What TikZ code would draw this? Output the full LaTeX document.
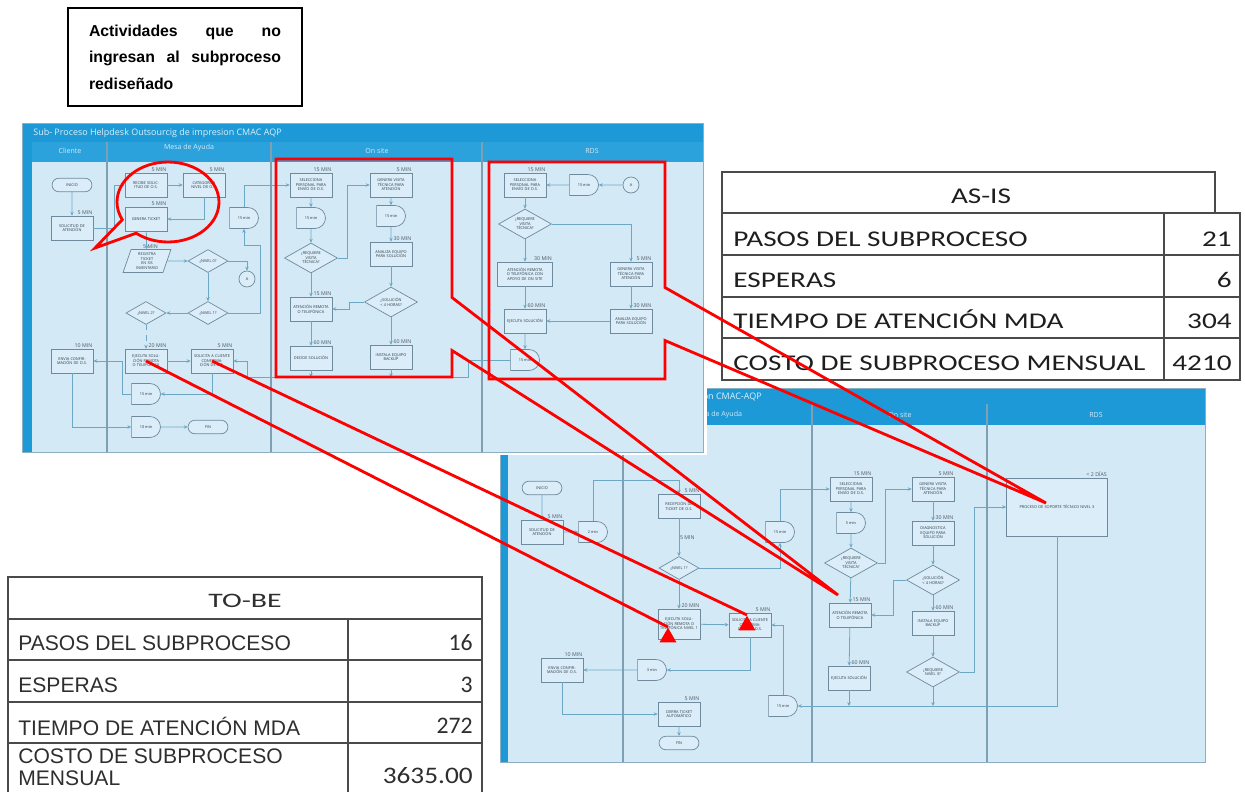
\documentclass[tikz,border=0pt]{standalone}
\usepackage{fontspec}
\usetikzlibrary{arrows.meta,shapes.geometric,shapes.misc,shapes.callouts}

\newfontfamily\arialf{Liberation Sans}
\newfontfamily\calif{Carlito}
\newfontfamily\flowf{Open Sans}

\definecolor{scrbg}{HTML}{D4E9F6}
\definecolor{scrframe}{HTML}{8DAFC4}
\definecolor{hdrblue}{HTML}{1C99D6}
\definecolor{lanehdr}{HTML}{2BA2DC}
\definecolor{lanecol}{HTML}{7F9FB2}
\definecolor{boxline}{HTML}{6F8A9C}
\definecolor{boxfill}{HTML}{DAEDF8}
\definecolor{flowline}{HTML}{6CA8C6}
\definecolor{boxtext}{HTML}{2C3945}
\definecolor{tabgray}{HTML}{4A4A4A}
\definecolor{tabtext}{HTML}{1E1E1E}
\definecolor{tobetext}{HTML}{2E2E2E}

% stretched table text
\newcommand\wide[2][1.3]{\scalebox{#1}[1]{#2}}
% justified block, never hyphenated
\newcommand\notepar[1]{\parbox{3.84cm}{\hyphenpenalty=10000 \exhyphenpenalty=10000 \tolerance=10000 #1}}

\tikzset{
  scredge/.style={draw=scrframe, line width=0.5pt},
  laneline/.style={draw=lanecol, line width=0.6pt},
  scrtitle/.style={font=\flowf\fontsize{5.1}{6}\selectfont, text=white!85!hdrblue, inner sep=0pt},
  lanetitle/.style={font=\flowf\fontsize{4}{5}\selectfont, text=white!80!hdrblue, inner sep=0pt},
  fshape/.style={draw=boxline, fill=boxfill, line width=0.4pt, inner sep=0.6pt, align=center,
    font=\flowf\fontsize{2.2}{2.6}\selectfont, text=boxtext},
  fbox/.style={fshape, rectangle, minimum width=0.84cm, minimum height=0.48cm, text width=0.76cm},
  term/.style={fshape, rounded rectangle, minimum width=0.84cm, minimum height=0.27cm},
  wait/.style={fshape, rounded rectangle, rounded rectangle left arc=none, minimum width=0.62cm, minimum height=0.42cm},
  dec/.style={fshape, diamond, aspect=1.8, inner sep=0pt, minimum width=0.8cm, minimum height=0.46cm},
  bigdec/.style={dec, minimum width=1.06cm, minimum height=0.6cm, text width=0.45cm},
  para/.style={fshape, trapezium, trapezium left angle=70, trapezium right angle=110, trapezium stretches=true,
    minimum width=0.96cm, minimum height=0.46cm, text width=0.5cm},
  conn/.style={fshape, circle, minimum size=0.32cm, inner sep=0pt},
  tlab/.style={font=\flowf\fontsize{3}{3.5}\selectfont, text=boxtext!85, inner sep=0.4pt},
  mins/.style={label={[tlab,anchor=south east]north east:#1}},
  flow/.style={draw=flowline, line width=0.45pt, -{Stealth[length=2.2pt,width=2pt]}},
  redline/.style={draw=red, line width=1.6pt},
  redcall/.style={draw=red, line width=1.6pt, inner sep=0pt},
  redmark/.style={regular polygon, regular polygon sides=3, fill=red, minimum size=0.39cm, inner sep=0pt},
  tabline/.style={draw=tabgray, line width=0.7pt},
  asistxt/.style={font=\calif\fontsize{12.8}{14}\selectfont, text=tabtext, inner sep=0pt},
  tobehead/.style={font=\calif\fontsize{11.7}{13}\selectfont, text=tobetext, inner sep=0pt},
  tobel/.style={font=\arialf\fontsize{12}{12.5}\selectfont, text=tobetext, inner sep=0pt},
  tobenum/.style={font=\calif\fontsize{13.5}{15}\selectfont, text=tobetext, inner sep=0pt},
  notebox/.style={draw=black, line width=0.9pt, minimum width=4.68cm, minimum height=1.96cm, inner sep=0pt,
    font=\arialf\bfseries\fontsize{9}{15}\selectfont}
}

\begin{document}
\begin{tikzpicture}[x=0.02cm,y=-0.02cm]
\useasboundingbox (0,0) rectangle (1245,792);

% TO-BE screenshot (lies under the AS-IS one)
\fill[scrbg] (500,388) rectangle (1205,762);
\fill[hdrblue] (500,388) rectangle (1205,425);
\fill[hdrblue] (500,425) rectangle (508,762);
\draw[scredge] (500,388) rectangle (1205,762);
\foreach \lx in {623,812,987}
  \draw[laneline] (\lx,404) -- (\lx,762);
\node[scrtitle,anchor=east] (btitle) at (762,397) {Sub- Proceso Helpdesk Outsourcig de impresion CMAC-AQP};
\node[lanetitle] (bcli) at (565,415) {Cliente};
\node[lanetitle] (bmda) at (717,415) {Mesa de Ayuda};
\node[lanetitle] (bons) at (900,415) {On site};
\node[lanetitle] (brds) at (1096,415) {RDS};

\node[term] (bini) at (542,488) {INICIO};
\node[fbox,mins=5 MIN] (bsol) at (542,532) {SOLICITUD DE ATENCIÓN};
\node[wait] (bw2) at (593,532) {2 min};
\node[fbox,mins=10 MIN] (benv) at (562,670) {ENVIA CONFIRMACIÓN DE O.S.};
\node[fbox,mins=5 MIN] (brec) at (679,506) {RECEPCIÓN DE TICKET DE O.S.};
\node[dec] (bn1) at (679,568) {¿NIVEL 1?};
\node[fbox,minimum height=0.6cm,mins=20 MIN] (bej) at (679,624) {EJECUTA SOLUCIÓN REMOTA O TELEFÓNICA NIVEL 1};
\node[fbox,mins=5 MIN] (bsc) at (750,625) {SOLICITA A CLIENTE CONFIRMACIÓN DE O.S.};
\node[wait] (bw3) at (652,670) {3 min};
\node[fbox,mins=5 MIN] (bci) at (679,714) {CIERRA TICKET AUTOMÁTICO};
\node[term] (bfin) at (679,743) {FIN};
\node[wait] (bw15a) at (780,532) {15 min};
\node[wait] (bw15b) at (783,706) {15 min};
\node[fbox,mins=15 MIN] (bsel) at (851,489) {SELECCIONA PERSONAL PARA ENVÍO DE O.S.};
\node[wait] (bw5) at (851,523) {5 min};
\node[bigdec] (brv) at (851,563) {¿REQUIERE VISITA TÉCNICA?};
\node[fbox,mins=15 MIN] (bat) at (850,615) {ATENCIÓN REMOTA O TELEFÓNICA};
\node[fbox,mins=60 MIN] (bejs) at (849,678) {EJECUTA SOLUCIÓN};
\node[fbox,mins=5 MIN] (bgv) at (933,489) {GENERA VISITA TÉCNICA PARA ATENCIÓN};
\node[fbox,mins=30 MIN] (bdi) at (933,533) {DIAGNOSTICA EQUIPO PARA SOLUCIÓN};
\node[bigdec] (bs4) at (933,580) {¿SOLUCIÓN < 4 HORAS?};
\node[fbox,mins=60 MIN] (bins) at (933,623) {INSTALA EQUIPO BACKUP};
\node[bigdec] (brn3) at (933,672) {¿REQUIERE NIVEL 3?};
\node[fbox,minimum width=2.02cm,minimum height=1.16cm,text width=1.9cm,mins=< 2 DÍAS] (bproc) at (1057,507) {PROCESO DE SOPORTE TÉCNICO NIVEL 3};

\draw[flow] (bini) -- (bsol);
\draw[flow] (bsol) -- (bw2);
\draw[flow] (bw2.north) -- ++(0,-41) -| (brec.north);
\draw[flow] (brec) -- node[tlab,right] {5 MIN} (bn1);
\draw[flow] (bn1) -- (bej);
\draw[flow] (bn1.east) -| (bw15a.south);
\draw[flow] (bw15a.north) |- (bsel.west);
\draw[flow] (bej) -- (bsc);
\draw[flow] (bsc.south) |- (bw3.east);
\draw[flow] (bw3) -- (benv);
\draw[flow] (benv.south) |- (bci.west);
\draw[flow] (bci) -- (bfin);
\draw[flow] (bw15b.north) |- (bsc.east);
\draw[flow] (bsel) -- (bw5);
\draw[flow] (bw5) -- (brv);
\draw[flow] (brv) -- (bat);
\draw[flow] (bat) -- (bejs);
\draw[flow] (brv.east) -- ++(8,0) |- (bgv.west);
\draw[flow] (bgv) -- (bdi);
\draw[flow] (bdi) -- (bs4);
\draw[flow] (bs4) -- (bins);
\draw[flow] (bins) -- (brn3);
\draw[flow] (bs4.west) -- ++(-13,0) |- (bat.east);
\draw[flow] (brn3.east) -- ++(15,0) |- (bproc.west);
\draw[flow] (bejs.south) -- (bejs.south |- bw15b);
\draw[flow] (brn3.south) -- (brn3.south |- bw15b);
\draw[flow] (bproc.south) |- (bw15b.east);

% AS-IS screenshot
\fill[white] (20,121) rectangle (707,455);
\fill[scrbg] (22,123) rectangle (703,452);
\fill[hdrblue] (22,123) rectangle (703,142);
\fill[lanehdr] (32,142) rectangle (703,162);
\fill[hdrblue] (22,142) rectangle (32,452);
\draw[scredge] (22,123) rectangle (703,452);
\foreach \lx in {107,271,482}
  \draw[laneline] (\lx,142) -- (\lx,452);
\node[scrtitle,anchor=west] (atitle) at (33,133) {Sub- Proceso Helpdesk Outsourcig de impresion CMAC AQP};
\node[lanetitle] (acli) at (70,151) {Cliente};
\node[lanetitle] (amda) at (189,148) {Mesa de Ayuda};
\node[lanetitle] (aons) at (377,151) {On site};
\node[lanetitle] (ards) at (592,151) {RDS};

\node[term] (aini) at (72,185) {INICIO};
\node[fbox,mins=5 MIN] (asol) at (72,228) {SOLICITUD DE ATENCIÓN};
\node[fbox,mins=10 MIN] (aenv) at (72,361) {ENVIA CONFIRMACIÓN DE O.S.};
\node[fbox,mins=5 MIN] (arec) at (146,185) {RECIBE SOLICITUD DE O.S.};
\node[fbox,mins=5 MIN] (acat) at (204,185) {CATEGORIZA NIVEL DE O.S.};
\node[fbox,mins=5 MIN] (agen) at (146,219) {GENERA TICKET};
\node[para,mins=5 MIN] (areg) at (147,261) {REGISTRA TICKET EN SIS INVENTARIO};
\node[dec] (an0) at (208,261) {¿NIVEL 0?};
\node[conn] (aA) at (247,279) {A};
\node[dec] (an1) at (208,313) {¿NIVEL 1?};
\node[dec] (an2) at (146,313) {¿NIVEL 2?};
\node[fbox,mins=20 MIN] (aej) at (146,361) {EJECUTA SOLUCIÓN REMOTA O TELEFÓNICA};
\node[fbox,mins=5 MIN] (asc) at (212,361) {SOLICITA A CLIENTE CONFIRMACIÓN DE O.S.};
\node[wait] (aw1) at (146,394) {15 min};
\node[wait] (aw2) at (146,427) {10 min};
\node[term] (afin) at (208,427) {FIN};
\node[wait] (aw3) at (244,218) {15 min};
\node[fbox,mins=15 MIN] (asel) at (311,185) {SELECCIONA PERSONAL PARA ENVÍO DE O.S.};
\node[wait] (aw4) at (311,218) {15 min};
\node[bigdec] (arv) at (311,258) {¿REQUIERE VISITA TÉCNICA?};
\node[fbox,mins=15 MIN] (aat) at (311,309) {ATENCIÓN REMOTA O TELEFÓNICA};
\node[fbox,mins=60 MIN] (ade) at (311,358) {DECIDE SOLUCIÓN};
\node[fbox,mins=5 MIN] (agv) at (391,185) {GENERA VISITA TÉCNICA PARA ATENCIÓN};
\node[wait] (aw5) at (391,216) {15 min};
\node[fbox,mins=30 MIN] (aan) at (391,254) {ANALIZA EQUIPO PARA SOLUCIÓN};
\node[bigdec] (as4) at (391,302) {¿SOLUCIÓN < 4 HORAS?};
\node[fbox,mins=60 MIN] (ain) at (391,357) {INSTALA EQUIPO BACKUP};
\node[fbox,mins=15 MIN] (asel2) at (525,185) {SELECCIONA PERSONAL PARA ENVÍO DE O.S.};
\node[wait] (aw6) at (584,185) {15 min};
\node[conn] (aA2) at (631,185) {A};
\node[bigdec] (arv2) at (525,224) {¿REQUIERE VISITA TÉCNICA?};
\node[fbox,minimum width=1.1cm,text width=1.02cm,mins=30 MIN] (aap) at (525,274) {ATENCIÓN REMOTA O TELEFÓNICA CON APOYO DE ON SITE};
\node[fbox,mins=5 MIN] (agv2) at (631,274) {GENERA VISITA TÉCNICA PARA ATENCIÓN};
\node[fbox,mins=60 MIN] (aejs) at (525,321) {EJECUTA SOLUCIÓN};
\node[fbox,mins=30 MIN] (aan2) at (631,321) {ANALIZA EQUIPO PARA SOLUCIÓN};
\node[wait] (aw7) at (525,360) {15 min};
\coordinate (aret) at (247,377);

\draw[flow] (aini) -- (asol);
\draw[flow] (asol.east) -- ++(21,0) |- (arec.west);
\draw[flow] (arec) -- (acat);
\draw[flow] (acat.south) |- (agen.east);
\draw[flow] (agen) -- (areg);
\draw[flow] (areg) -- (an0);
\draw[flow] (an0.east) -| (aA.north);
\draw[flow] (an0) -- (an1);
\draw[flow] (an1) -- (an2);
\draw[flow] (an1.east) -| ++(32,-68) -| (aw3.south);
\draw[flow] (aw3.north) |- (asel.west);
\draw[flow,dashed] (an2) -- (aej);
\draw[flow] (aej) -- (asc);
\draw[flow] (asc.south) |- (aw1.east);
\draw[flow] (aw1.west) -- ++(-9,0) |- (aenv.east);
\draw[flow] (aenv.south) |- (aw2.west);
\draw[flow] (aw2) -- (afin);
\draw[flow] (aw7.west) -- ++(-42,0) |- (aret) |- (asc.east);
\draw[flow] (ade.south) -- (ade.south |- aret);
\draw[flow] (ain.south) -- (ain.south |- aret);
\draw[flow] (asel) -- (aw4);
\draw[flow] (aw4) -- (arv);
\draw[flow] (arv) -- (aat);
\draw[flow] (aat) -- (ade);
\draw[flow] (arv.east) -- ++(10,0) |- (agv.west);
\draw[flow] (agv) -- (aw5);
\draw[flow] (aw5) -- (aan);
\draw[flow] (aan) -- (as4);
\draw[flow] (as4) -- (ain);
\draw[flow] (as4.west) -- ++(-15,0) |- (aat.east);
\draw[flow] (aA2) -- (aw6);
\draw[flow] (aw6) -- (asel2);
\draw[flow] (asel2) -- (arv2);
\draw[flow] (arv2) -- (aap);
\draw[flow] (arv2.east) -| (agv2.north);
\draw[flow] (aap) -- (aejs);
\draw[flow] (agv2) -- (aan2);
\draw[flow] (aan2) -- (aejs);
\draw[flow] (aejs) -- (aw7);

% AS-IS table
\draw[tabline] (722,172) rectangle (1215,213);
\draw[tabline] (722,213) rectangle (1240,380);
\foreach \ry in {255,297,338}
  \draw[tabline] (722,\ry) -- (1240,\ry);
\draw[tabline] (1164,213) -- (1164,380);
\node[asistxt,anchor=base] (asis) at (981,203) {\wide{AS-IS}};
\node[asistxt,anchor=base west] (apasos) at (733,246) {\wide{PASOS DEL SUBPROCESO}};
\node[asistxt,anchor=base west] (aesp) at (733,287) {\wide{ESPERAS}};
\node[asistxt,anchor=base west] (atiem) at (733,328) {\wide{TIEMPO DE ATENCIÓN MDA}};
\node[asistxt,anchor=base west] (acosto) at (733,370) {\wide{COSTO DE SUBPROCESO MENSUAL}};
\node[asistxt,anchor=base east] (av1) at (1232,246) {\wide{21}};
\node[asistxt,anchor=base east] (av2) at (1232,287) {\wide{6}};
\node[asistxt,anchor=base east] (av3) at (1232,328) {\wide{304}};
\node[asistxt,anchor=base east] (av4) at (1232,370) {\wide{4210}};

% TO-BE table
\draw[tabline] (8,577) rectangle (482,619);
\draw[tabline] (8,619) -- (8,792) (482,619) -- (482,792);
\foreach \ry in {660,702,743}
  \draw[tabline] (8,\ry) -- (482,\ry);
\draw[tabline] (348,619) -- (348,792);
\node[tobehead,anchor=base] (tobe) at (245,607) {\wide[1.45]{TO-BE}};
\node[tobel,anchor=base west] (bpasos) at (18,650) {PASOS DEL SUBPROCESO};
\node[tobel,anchor=base west] (besp) at (18,692) {ESPERAS};
\node[tobel,anchor=base west] (btiem) at (18,735) {TIEMPO DE ATENCIÓN MDA};
\node[tobel,anchor=north west,align=left] (bcosto) at (18,748) {COSTO DE SUBPROCESO\\MENSUAL};
\node[tobenum,anchor=base east] (bv1) at (473,650) {16};
\node[tobenum,anchor=base east] (bv2) at (473,692) {3};
\node[tobenum,anchor=base east] (bv3) at (473,733) {272};
\node[tobenum,anchor=base east] (bv4) at (473,783) {\wide[1.15]{3635.00}};

% note on the dropped activities
\node[notebox] (nota) at (185,57) {\notepar{Actividades que no ingresan al subproceso rediseñado}};

% red marks
\coordinate (tgtat) at (838,595);
\coordinate (tgtproc) at (1046,503);
\node[redcall,ellipse callout,minimum width=2.04cm,minimum height=1.6cm,callout pointer arc=25,
  callout absolute pointer={(95,248)}] (rcirc) at (168,202) {};
\node[redcall,rectangle callout,minimum width=3.52cm,minimum height=4.36cm,callout pointer width=1.06cm,
  callout absolute pointer={(tgtat)}] (ronsite) at (364,268) {};
\node[redcall,rectangle callout,minimum width=3.52cm,minimum height=4.34cm,callout pointer width=1.06cm,
  callout absolute pointer={(tgtproc)}] (rrds) at (577,270.5) {};
\node[redmark,anchor=corner 1] (tri1) at (668,627) {};
\node[redmark,anchor=corner 1] (tri2) at (747,615) {};
\draw[redline] (aej.center) -- (tri1.corner 1);
\draw[redline] (asc.center) -- (tri2.corner 1);

\end{tikzpicture}
\end{document}
